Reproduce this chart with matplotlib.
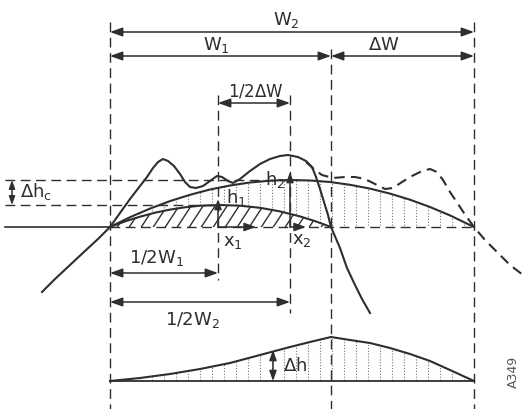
import matplotlib
matplotlib.use('Agg')
import matplotlib.pyplot as plt
import numpy as np

ink = '#2e2e2e'
dot = '#777777'

# key positions, read in pixels of the original drawing
x_left, x_half1, x_half2, x_w1, x_w2 = 110, 218, 290, 331, 474
y_base = 227
y_h1 = 205
y_h2 = 180
y_base2 = 381

# measured peak (solid line)
spec1_x = [42, 55, 70, 85, 98, 110, 120, 130, 140, 147, 153, 158, 163, 168, 174, 180, 185, 190,
           196, 203, 210, 217, 222, 228, 233, 240, 250, 260, 270, 280, 288, 298, 306, 312, 316,
           320, 324, 328, 331, 340, 347, 355, 362, 370]
spec1_y = [292, 279, 265, 251, 239, 227, 213, 199, 186, 177, 168, 162, 159, 161, 166, 174, 182, 187,
           188, 186, 181, 176, 177, 181, 183, 179, 171, 164, 159, 156, 155, 157, 161, 167, 177,
           189, 202, 215, 227, 248, 268, 285, 299, 313]

# second peak (dashed line)
spec2_x = [306, 315, 322, 333, 345, 355, 365, 375, 385, 393, 402, 412, 422, 430, 437, 443, 450,
           458, 466, 474, 485, 497, 510, 523]
spec2_y = [162, 170, 175, 178, 177, 177, 179, 184, 189, 188, 182, 176, 171, 169, 172, 180, 192,
           204, 216, 227, 240, 252, 265, 275]

# parabolic approximations W2 (large) and W1 (small)
arc2_x = [110, 130, 150, 170, 190, 210, 230, 250, 270, 290, 310, 330, 350, 370, 390, 410, 430, 450, 474]
arc2_y = [227, 217.2, 208.6, 201.1, 194.8, 189.5, 185.5, 182.5, 180.7, 180, 180.5, 182.0, 184.8,
          188.6, 193.6, 199.7, 207.0, 215.4, 227]
arc1_x = [110, 125, 140, 155, 170, 185, 200, 220, 240, 260, 280, 300, 315, 331]
arc1_y = [227, 221.4, 216.7, 212.7, 209.6, 207.3, 205.7, 205.0, 205.7, 207.8, 211.4, 216.4, 221.1, 227]

# difference curve delta h (bottom)
dh_x = [110, 140, 170, 200, 230, 260, 290, 310, 331, 350, 370, 390, 410, 430, 450, 474]
dh_y = [381, 378, 374, 369, 363, 355, 347, 342, 337, 340, 343, 348, 354, 361, 370, 381]

fig = plt.figure(figsize=(5.23, 4.09), dpi=100)
ax = fig.add_axes([0, 0, 1, 1])
ax.set_xlim(0, 523)
ax.set_ylim(409, 0)
ax.axis('off')

dash = (0, (7, 4))
lw_main = 1.5

# vertical construction lines
ax.vlines([x_left, x_w2], 22, 409, colors=ink, lw=1.0, linestyles=[dash])
ax.vlines([x_w1], 49, 409, colors=ink, lw=1.0, linestyles=[dash])
ax.vlines([x_half1], 95, 280, colors=ink, lw=1.0, linestyles=[dash])
ax.vlines([x_half2], 95, 313, colors=ink, lw=1.0, linestyles=[dash])

# horizontal helper lines
ax.plot([5, x_left], [y_base, y_base], color=ink, lw=1.2)
ax.plot([x_left, x_w2], [y_base, y_base], color=ink, lw=1.0, ls=dash)
ax.plot([5, 300], [y_h2, y_h2], color=ink, lw=1.0, ls=dash)
ax.plot([5, x_half1], [y_h1, y_h1], color=ink, lw=1.0, ls=dash)

# shaded regions
region_top = ax.fill(arc2_x + [x_w2, x_w1] + arc1_x[::-1],
                     arc2_y + [y_base, y_base] + arc1_y[::-1], color='none', lw=0)[0]
vl = ax.vlines(np.arange(116, x_w2, 12), 175, 230, colors=dot, lw=0.8, linestyles=[(0, (1, 1.6))])
vl.set_clip_path(region_top)

region_small = ax.fill(arc1_x, arc1_y, color='none', lw=0)[0]
for c in np.arange(92, 345, 12):
    ln, = ax.plot([c, c + 17], [229, 203], color=ink, lw=1.0)
    ln.set_clip_path(region_small)

region_dh = ax.fill(dh_x, dh_y, color='none', lw=0)[0]
vl2 = ax.vlines(np.arange(116, x_w2, 12), 330, 382, colors=dot, lw=0.8, linestyles=[(0, (1, 1.6))])
vl2.set_clip_path(region_dh)

# curves
ax.plot(arc1_x, arc1_y, color=ink, lw=lw_main, solid_joinstyle='round')
ax.plot(arc2_x, arc2_y, color=ink, lw=lw_main, solid_joinstyle='round')
ax.plot(spec1_x, spec1_y, color=ink, lw=lw_main, solid_joinstyle='round')
ax.plot(spec2_x, spec2_y, color=ink, lw=lw_main, ls=(0, (5, 3)))
ax.plot(dh_x, dh_y, color=ink, lw=lw_main, solid_joinstyle='round')
ax.plot([x_left, x_w2], [y_base2, y_base2], color=ink, lw=1.3)

# dimension arrows
def arrow(x0, y0, x1, y1, style='<|-|>', scale=15):
    ax.annotate('', xy=(x1, y1), xytext=(x0, y0),
                arrowprops=dict(arrowstyle=style + ',head_length=0.5,head_width=0.18',
                                color=ink, lw=1.1, shrinkA=0, shrinkB=0,
                                mutation_scale=scale))

arrow(x_left, 32, x_w2, 32)
arrow(x_left, 56, x_w1, 56)
arrow(x_w1, 56, x_w2, 56)
arrow(x_half1, 103, x_half2, 103)
arrow(x_left, 273, x_half1, 273)
arrow(x_left, 302, x_half2, 302)
arrow(12, y_h2, 12, y_h1, scale=10)
arrow(273, 350, 273, y_base2, scale=12)
arrow(x_half1, y_base, x_half1, 199, style='-|>', scale=12)
arrow(x_half2, y_base, x_half2, 172, style='-|>', scale=12)
arrow(x_half1, y_base, 256, y_base, style='-|>', scale=14)
arrow(x_half2, y_base, 306, y_base, style='-|>', scale=14)

# labels
fs = 13
def label(x, y, s, size=fs):
    ax.text(x, y, s, fontsize=size, color=ink, ha='center', va='center')

label(286, 20, r'$\mathregular{W_2}$')
label(216, 45, r'$\mathregular{W_1}$')
label(384, 45, r'$\mathregular{ΔW}$')
label(256, 91, r'$\mathregular{1/2ΔW}$', size=12)
label(36, 192, r'$\mathregular{Δh_c}$')
label(236, 197, r'$\mathregular{h_1}$')
label(275, 180, r'$\mathregular{h_2}$')
label(233, 242, r'$\mathregular{x_1}$')
label(302, 240, r'$\mathregular{x_2}$')
label(157, 258, r'$\mathregular{1/2W_1}$')
label(193, 320, r'$\mathregular{1/2W_2}$')
label(295, 366, r'$\mathregular{Δh}$')
ax.text(513, 372, 'A349', fontsize=9, color='#555555', rotation=90, ha='center', va='center')

fig.savefig('out.png', dpi=100, facecolor='white')
